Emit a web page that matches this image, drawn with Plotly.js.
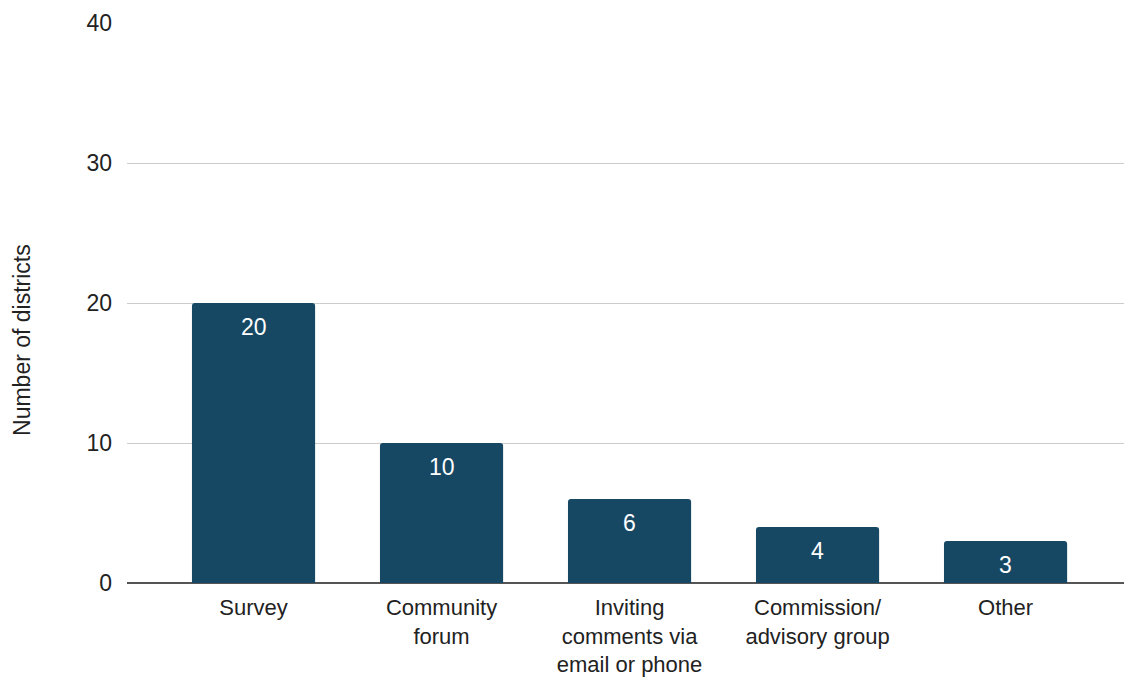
<!DOCTYPE html>
<html>
<head>
<meta charset="utf-8">
<script src="https://cdn.plot.ly/plotly-3.0.1.min.js"></script>
<style>html,body{margin:0;padding:0;background:#fff;}#chart{width:1124px;height:677px;}</style>
</head>
<body>
<div id="chart"></div>
<script>
const categories = ["Survey", "Community<br>forum", "Inviting<br>comments via<br>email or phone", "Commission/<br>advisory group", "Other"];
const districts = [20, 10, 6, 4, 3];
const yTicks = [0, 10, 20, 30, 40];

const FONT = "Liberation Sans, Arial, sans-serif";
const FS = 23;

const trace = {
  type: "bar",
  x: categories,
  y: districts,
  marker: {color: "#174863", cornerradius: 3, line: {width: 0}},
  width: 0.655,
  hoverinfo: "skip"
};

const valueLabels = categories.map((c, i) => ({
  x: c,
  y: districts[i],
  xref: "x",
  yref: "y",
  text: String(districts[i]),
  showarrow: false,
  yanchor: "top",
  yshift: -9,
  font: {family: FONT, size: FS, color: "#ffffff"}
}));

const layout = {
  width: 1124,
  height: 677,
  margin: {l: 127, r: 0, t: 23, b: 94},
  paper_bgcolor: "#ffffff",
  plot_bgcolor: "#ffffff",
  showlegend: false,
  font: {family: FONT, size: FS, color: "#222222"},
  xaxis: {
    type: "category",
    range: [-0.673, 4.63],
    showgrid: false,
    zeroline: false,
    showline: false,
    ticks: "",
    tickfont: {family: FONT, size: 22, color: "#222222"},
    ticklabelstandoff: 9,
    automargin: false
  },
  yaxis: {
    range: [0, 40],
    tickvals: yTicks,
    ticktext: yTicks.map(String),
    showgrid: true,
    gridcolor: "#cccccc",
    gridwidth: 1,
    zeroline: true,
    zerolinecolor: "#555555",
    zerolinewidth: 2,
    showline: false,
    ticks: "",
    ticklabelstandoff: 14,
    tickfont: {family: FONT, size: FS, color: "#222222"},
    automargin: false
  },
  annotations: valueLabels.concat([{
    text: "Number of districts",
    xref: "paper", yref: "paper",
    x: -0.1053, y: 0.434,
    xanchor: "center", yanchor: "middle",
    textangle: -90,
    showarrow: false,
    font: {family: FONT, size: FS, color: "#222222"}
  }])
};

Plotly.newPlot("chart", [trace], layout, {displayModeBar: false, staticPlot: true});
</script>
</body>
</html>
